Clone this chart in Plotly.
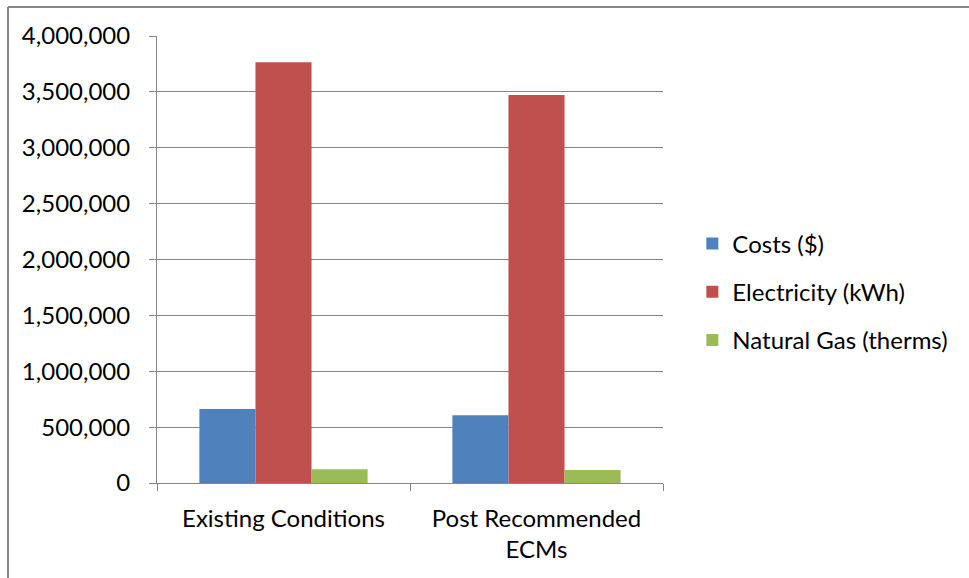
import plotly.graph_objects as go

# Annual totals before and after the recommended energy conservation measures
categories = ["Existing Conditions", "Post Recommended<br>ECMs"]
costs = [662000, 606000]
electricity = [3765000, 3472000]
natural_gas = [123000, 116000]

series = [
    ("Costs ($)", costs, "#4F81BD"),
    ("Electricity (kWh)", electricity, "#C0504D"),
    ("Natural Gas (therms)", natural_gas, "#9BBB59"),
]

fig = go.Figure()
for i, (name, vals, color) in enumerate(series):
    fig.add_trace(go.Bar(
        x=categories, y=vals, name=name, legendgroup=str(i),
        marker=dict(color=color, line=dict(width=0)),
    ))

W, H = 969, 578
L, R, T, B = 157, 663, 36, 483
pw, ph = R - L, B - T

fig.update_layout(
    width=W, height=H,
    margin=dict(l=L, r=W - R, t=T, b=H - B, autoexpand=False),
    paper_bgcolor="white", plot_bgcolor="white",
    font=dict(family="Lato, Open Sans, sans-serif", size=24, color="black"),
    barmode="group", bargap=0.335, bargroupgap=0,
    showlegend=True,
    legend=dict(x=1.058, y=(B - 292) / ph, xanchor="left", yanchor="middle",
                tracegroupgap=14, font=dict(size=24), itemwidth=30),
    xaxis=dict(showline=True, linecolor="#868686", linewidth=1,
               ticks="outside", ticklen=7, tickcolor="#868686",
               tickson="boundaries", showgrid=False, ticklabelstandoff=14),
    yaxis=dict(range=[0, 4000000], dtick=500000, tickformat=",d",
               showline=True, linecolor="#868686", linewidth=1,
               ticks="outside", ticklen=7, tickcolor="#868686",
               showgrid=True, gridcolor="#868686", gridwidth=1,
               zeroline=False, ticklabelstandoff=14),
    shapes=[
        # chart frame (left and top edges)
        dict(type="line", xref="paper", yref="paper",
             x0=(8 - L) / pw, x1=(8 - L) / pw,
             y0=(B - 7) / ph, y1=(B - 600) / ph,
             line=dict(color="#868686", width=2)),
        dict(type="line", xref="paper", yref="paper",
             x0=(8 - L) / pw, x1=(1000 - L) / pw,
             y0=(B - 7) / ph, y1=(B - 7) / ph,
             line=dict(color="#868686", width=2)),
    ],
)

fig.write_html("out.html")
